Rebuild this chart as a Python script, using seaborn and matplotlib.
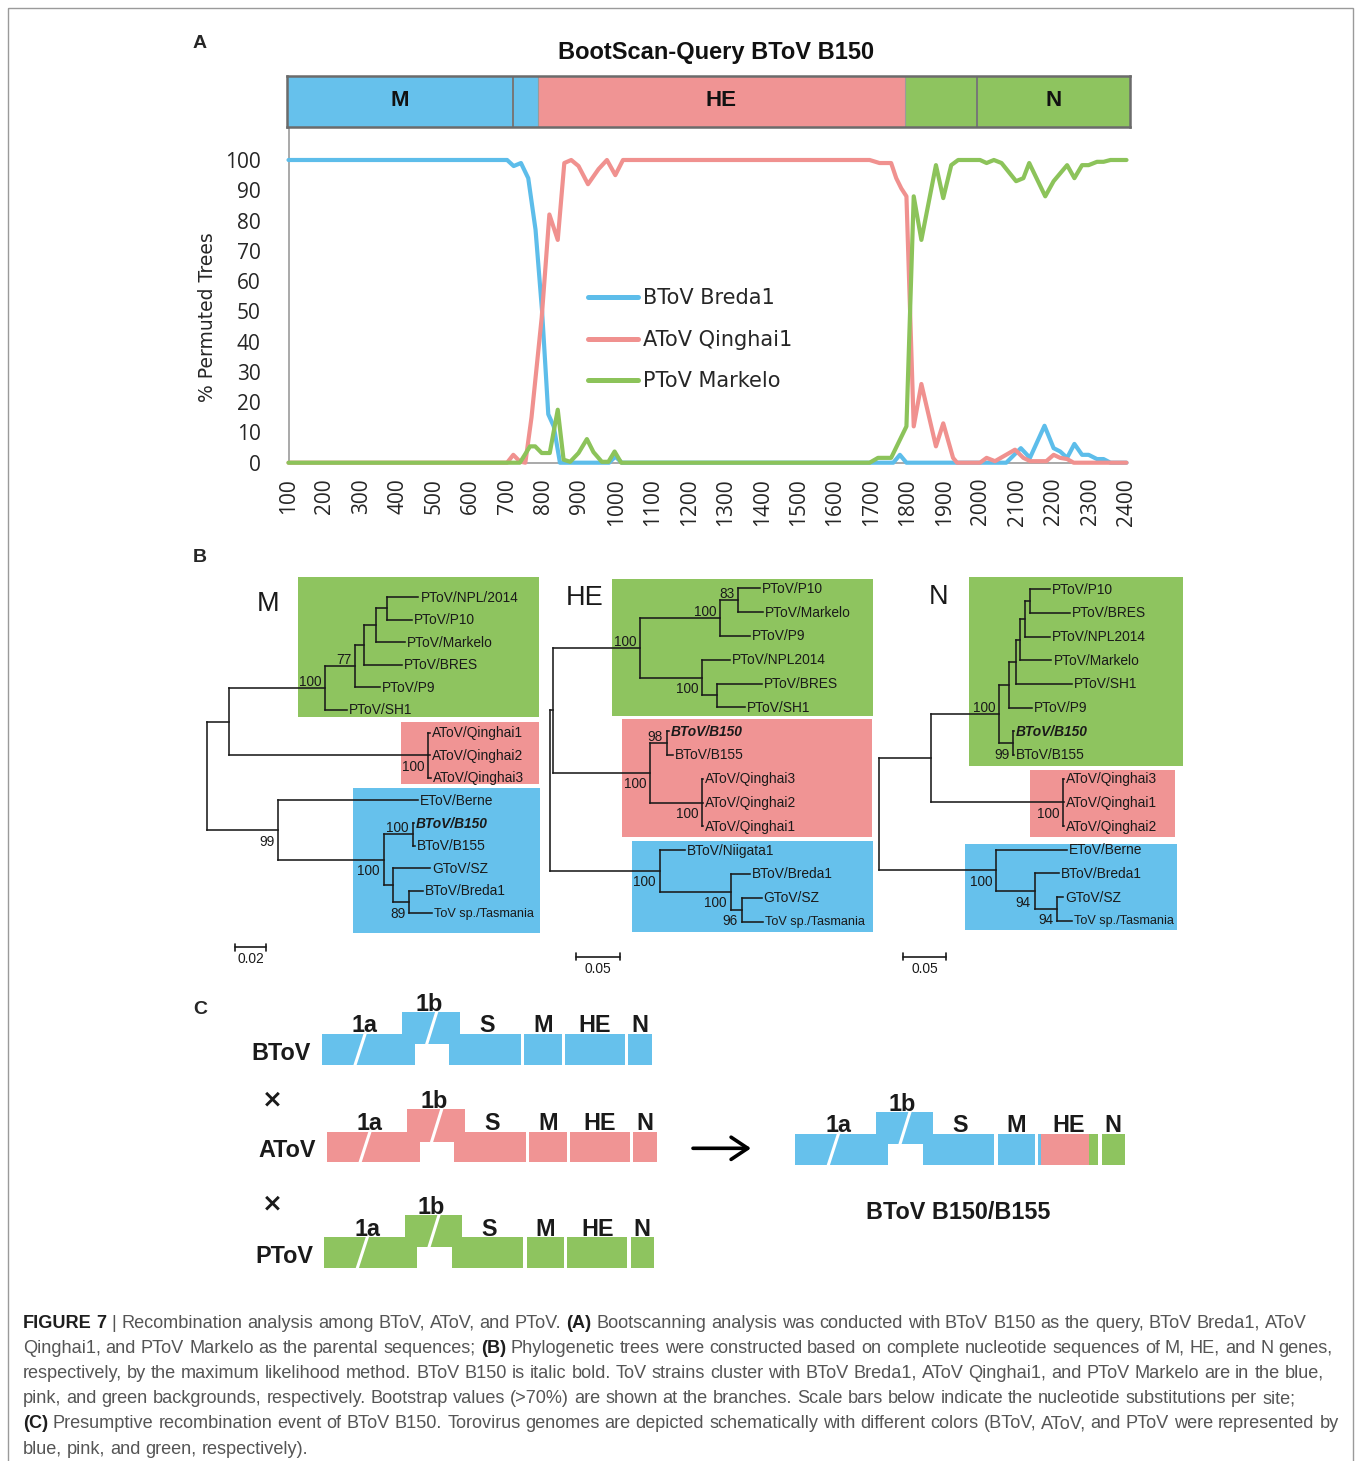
import matplotlib
matplotlib.use("Agg")
import numpy as np
import pandas as pd
import matplotlib.pyplot as plt
import seaborn as sns
from matplotlib.lines import Line2D
from matplotlib.patches import Rectangle, Polygon

W, H = 1356, 1461

# ---------------- panel A: bootscan (% permuted trees) ----------------
strains = ["BToV Breda1", "AToV Qinghai1", "PToV Markelo"]

breda1_pos = [100, 700, 718, 738, 758, 778, 796, 813, 828, 845, 980, 997, 1015,
              1760, 1778, 1796, 2070, 2110, 2135, 2175, 2200, 2218, 2237, 2257,
              2278, 2296, 2319, 2337, 2356, 2400]
breda1_pct = [100, 100, 98, 99, 94, 77, 50, 16, 12, 0, 0, 2, 0,
              0, 2.6, 0, 0, 4.8, 1.6, 12.2, 4.8, 3.7, 1.6, 6.2,
              2.6, 2.6, 1.2, 1.2, 0, 0]

qinghai1_pos = [100, 700, 717, 735, 750, 767, 795, 816, 839, 857, 876, 896, 922, 951,
                974, 997, 1018, 1695, 1722, 1754, 1768, 1782, 1796, 1816, 1837, 1877,
                1897, 1924, 1935, 1998, 2016, 2039, 2094, 2117, 2136, 2180, 2200, 2218,
                2237, 2255, 2400]
qinghai1_pct = [0, 0, 2.6, 0.4, 0, 15, 48, 82, 73.6, 99, 100, 98, 92, 97,
                100, 95, 100, 100, 99, 99, 94, 90.6, 88, 12, 26, 5.4,
                13, 1.6, 0, 0, 1.6, 0.5, 4.3, 1.6, 0.5, 0.5, 2.6, 1.6,
                1.2, 0, 0]

markelo_pos = [100, 735, 763, 777, 795, 817, 839, 855, 873, 896, 919, 937, 960, 978,
               995, 1013, 1695, 1718, 1754, 1796, 1816, 1837, 1877, 1897, 1919, 1938,
               1998, 2016, 2036, 2057, 2097, 2117, 2133, 2177, 2200, 2237, 2257, 2278,
               2296, 2319, 2337, 2356, 2400]
markelo_pct = [0, 0, 5.4, 5.4, 3.2, 3.2, 17.5, 1, 0.3, 3.2, 7.8, 3.5, 0.3, 0.3,
               3.7, 0, 0, 1.6, 1.6, 12, 88, 73.6, 98.3, 87.4, 98.3, 100,
               100, 99, 100, 99, 93, 94, 99, 88, 93, 98.3, 94, 98.3,
               98.3, 99.4, 99.4, 100, 100]

x_ticks = list(range(100, 2500, 100))
y_ticks = list(range(0, 110, 10))

# gene bar above the bootscan (alignment positions)
bar_edges = [96, 717, 784, 1793, 1990, 2410]
bar_source = ["BToV", "BToV", "AToV", "PToV", "PToV"]
bar_names = ["M", "", "HE", "", "N"]
gene_edges = [717, 1990]

# ---------------- panel B: ML trees (newick, subs/site) ----------------
tree_M = ("(((((((PToV/NPL/2014:0.0200,PToV/P10:0.0157):0.0075,PToV/Markelo:0.0190):0.0075,"
          "PToV/BRES:0.0243):0.0058,PToV/P9:0.0160)77:0.0194,PToV/SH1:0.0140)100:0.0620,"
          "(AToV/Qinghai1:0.0013,AToV/Qinghai2:0.0010,AToV/Qinghai3:0.0020)100:0.1286):0.0140,"
          "(EToV/Berne:0.0903,((BToV/B150:0.0006,BToV/B155:0.0013)100:0.0185,"
          "(GToV/SZ:0.0237,(BToV/Breda1:0.0090,ToV sp./Tasmania:0.0145)89:0.0103):0.0060)100:0.0682)99:0.0458);")
tree_HE = ("(((((PToV/P10:0.0247,PToV/Markelo:0.0284)83:0.0208,PToV/P9:0.0341)100:0.0909,"
           "(PToV/NPL2014:0.0315,(PToV/BRES:0.0511,PToV/SH1:0.0322):0.0164)100:0.0708)100:0.0985,"
           "((BToV/B150:0.0020,BToV/B155:0.0068)98:0.0190,"
           "(AToV/Qinghai3:0.0010,AToV/Qinghai2:0.0010,AToV/Qinghai1:0.0010)100:0.0594)100:0.1099):0.0038,"
           "(BToV/Niigata1:0.0284,(BToV/Breda1:0.0219,(GToV/SZ:0.0227,ToV sp./Tasmania:0.0245)96:0.0125)100:0.0803)100:0.1250);")
tree_N = ("((((((((PToV/P10:0.0233,PToV/BRES:0.0465):0.0058,PToV/NPL2014:0.0290):0.0058,"
          "PToV/Markelo:0.0368):0.0039,PToV/SH1:0.0640):0.0085,PToV/P9:0.0260):0.0116,"
          "(BToV/B150:0.0010,BToV/B155:0.0010)99:0.0163)100:0.0794,"
          "(AToV/Qinghai3:0.0010,AToV/Qinghai1:0.0010,AToV/Qinghai2:0.0010)100:0.1538):0.0600,"
          "(EToV/Berne:0.0822,(BToV/Breda1:0.0283,(GToV/SZ:0.0070,ToV sp./Tasmania:0.0167)94:0.0260)94:0.0453)100:0.1357);")
tree_names = ["M", "HE", "N"]
scale_values = [0.02, 0.05, 0.05]
query_strain = "BToV/B150"

# ---------------- panel C: genome schematics ----------------
genome_rows = ["BToV", "AToV", "PToV"]
genome_genes = ["1a", "1b", "S", "M", "HE", "N"]
recombinant_name = "BToV B150/B155"
recombinant_backbone = "BToV"

caption_lines = [
    "**FIGURE 7** | Recombination analysis among BToV, AToV, and PToV. **(A)** Bootscanning analysis was conducted with BToV B150 as the query, BToV Breda1, AToV",
    "Qinghai1, and PToV Markelo as the parental sequences; **(B)** Phylogenetic trees were constructed based on complete nucleotide sequences of M, HE, and N genes,",
    "respectively, by the maximum likelihood method. BToV B150 is italic bold. ToV strains cluster with BToV Breda1, AToV Qinghai1, and PToV Markelo are in the blue,",
    "pink, and green backgrounds, respectively. Bootstrap values (>70%) are shown at the branches. Scale bars below indicate the nucleotide substitutions per site;",
    "**(C)** Presumptive recombination event of BToV B150. Torovirus genomes are depicted schematically with different colors (BToV, AToV, and PToV were represented by",
    "blue, pink, and green, respectively).",
]

pal = {"BToV": "#66C1EC", "AToV": "#F09494", "PToV": "#8EC45F"}
line_colors = dict(zip(strains, ["#5DBDEA", "#F0918F", "#8CC35A"]))


def fig_box(x0, y0, x1, y1):
    return [x0 / W, 1 - y1 / H, (x1 - x0) / W, (y1 - y0) / H]


def parse_newick(s):
    s = s.strip().rstrip(";")
    i = 0

    def read():
        nonlocal i
        kids = []
        if s[i] == "(":
            i += 1
            kids.append(read())
            while s[i] == ",":
                i += 1
                kids.append(read())
            i += 1
        j = i
        while i < len(s) and s[i] not in ",():":
            i += 1
        name = s[j:i].strip()
        length = 0.0
        if i < len(s) and s[i] == ":":
            i += 1
            j = i
            while i < len(s) and s[i] not in ",()":
                i += 1
            length = float(s[j:i])
        return {"name": name, "len": length, "kids": kids}

    return read()


def place(node, x, counter, top, dy, k):
    node["x"] = x
    if not node["kids"]:
        node["y"] = top + counter[0] * dy
        counter[0] += 1
        return
    for kid in node["kids"]:
        place(kid, x + kid["len"] * k, counter, top, dy, k)
    node["y"] = (node["kids"][0]["y"] + node["kids"][-1]["y"]) / 2


def draw_tree(ax, node, parent=None, idx=0):
    lk = dict(color="#1a1a1a", lw=1.15, solid_capstyle="projecting", zorder=3)
    if parent is not None:
        ax.plot([parent["x"], node["x"]], [node["y"], node["y"]], **lk)
    if node["kids"]:
        ax.plot([node["x"], node["x"]], [node["kids"][0]["y"], node["kids"][-1]["y"]], **lk)
        for n, kid in enumerate(node["kids"]):
            draw_tree(ax, kid, node, n)
        if node["name"] and parent is not None:
            dy = -1.8 if idx == 0 else 15.5
            ax.text(node["x"] - 4, node["y"] + dy, node["name"], ha="right", va="baseline",
                    fontsize=9.8, color="#1a1a1a", zorder=4)
    else:
        q = node["name"] == query_strain
        fs = 9.1 if " sp./" in node["name"] else 9.9
        ax.text(node["x"] + 2, node["y"] + 0.5, node["name"], ha="left", va="center",
                fontsize=fs, color="#1a1a1a", zorder=4,
                fontweight="bold" if q else "normal", fontstyle="italic" if q else "normal")


sns.set_style("white")
plt.rcParams["font.family"] = ["Liberation Sans", "DejaVu Sans"]

fig = plt.figure(figsize=(W / 100, H / 100), dpi=100)
renderer = fig.canvas.get_renderer()
ov = fig.add_axes([0, 0, 1, 1])
ov.set_xlim(0, W)
ov.set_ylim(H, 0)
ov.axis("off")
ov.add_patch(Rectangle((8, 8), 1345, 1480, fill=False, edgecolor="#9a9a9a", lw=1))

# ---------------- panel A ----------------
ax = fig.add_axes(fig_box(288.5, 127, 1126.5, 462.7))
bootscan = pd.concat([
    pd.DataFrame({"pos": breda1_pos, "pct": breda1_pct, "strain": strains[0]}),
    pd.DataFrame({"pos": qinghai1_pos, "pct": qinghai1_pct, "strain": strains[1]}),
    pd.DataFrame({"pos": markelo_pos, "pct": markelo_pct, "strain": strains[2]}),
], ignore_index=True)
sns.lineplot(data=bootscan, x="pos", y="pct", hue="strain", hue_order=strains,
             palette=line_colors, estimator=None, linewidth=3.0, ax=ax, legend=False,
             solid_joinstyle="round", solid_capstyle="round", zorder=3, clip_on=False)
ax.set_xlim(100, 2400)
ax.set_ylim(0, 110.9)
ax.set_xticks(x_ticks)
ax.set_xticklabels([str(t) for t in x_ticks], rotation=90, fontsize=15, fontfamily="Open Sans")
ax.set_yticks(y_ticks)
ax.set_yticklabels([str(t) for t in y_ticks], fontsize=15, fontfamily="Open Sans")
ax.tick_params(axis="both", length=0)
ax.tick_params(axis="y", pad=20)
ax.tick_params(axis="x", pad=11)
for side in ["top", "right"]:
    ax.spines[side].set_visible(False)
for side in ["left", "bottom"]:
    ax.spines[side].set_color("#a3a3a3")
    ax.spines[side].set_linewidth(1.3)
ax.set_xlabel("")
ax.set_ylabel("% Permuted Trees", fontsize=13.5, fontfamily="DejaVu Sans")
ax.yaxis.set_label_coords(-0.085, 0.434)
handles = [Line2D([], [], color=line_colors[s], lw=3.6) for s in strains]
ax.legend(handles, strains, loc="center left", bbox_to_anchor=(0.357, 0.366), frameon=False,
          borderpad=0, borderaxespad=0, handlelength=2.4, handletextpad=0.28, labelspacing=1.03,
          prop={"family": "DejaVu Sans", "size": 15})

axb = fig.add_axes(fig_box(287, 75.5, 1130, 126.5))
axb.set_xlim(bar_edges[0], bar_edges[-1])
axb.set_ylim(0, 1)
for x0, x1, src, name in zip(bar_edges[:-1], bar_edges[1:], bar_source, bar_names):
    axb.axvspan(x0, x1, color=pal[src], lw=0)
    if name:
        axb.text((x0 + x1) / 2, 0.5, name, ha="center", va="center", fontsize=16,
                 fontweight="bold", color="#111111")
for e in bar_edges[1:-1]:
    g = e in gene_edges
    axb.axvline(e, color="#777777" if g else "#9a9a9a", lw=1.4 if g else 0.8)
axb.set_xticks([])
axb.set_yticks([])
for sp in axb.spines.values():
    sp.set_color("#6b6b6b")
    sp.set_linewidth(1.8)

ov.text(716, 53, "BootScan-Query BToV B150", ha="center", va="center", fontsize=17,
        fontweight="bold", color="#111111")
for lab, y in zip("ABC", [43, 558, 1010]):
    ov.text(200, y, lab, ha="center", va="center", fontsize=14, fontweight="bold")

# ---------------- panel B ----------------
tree_layout = {
    "M": dict(root=(207.3, 597.0), dy=22.6, k=1550, title=(268, 604), bar=(235, 947),
              boxes=[("PToV", 298.3, 577.3, 539.3, 716.7), ("AToV", 400.7, 721.7, 539.3, 784.3),
                     ("BToV", 353.3, 788.3, 540.0, 932.7)]),
    "HE": dict(root=(550.0, 588.3), dy=23.8, k=880, title=(584.5, 598), bar=(576, 956.7),
               boxes=[("PToV", 611.7, 579.3, 873.3, 716.0), ("AToV", 622.3, 719.0, 872.3, 836.7),
                      ("BToV", 631.7, 840.7, 873.3, 931.7)]),
    "N": dict(root=(879.3, 589.3), dy=23.67, k=860, title=(938.5, 597.5), bar=(903.3, 956.7),
              boxes=[("PToV", 969.3, 577.3, 1183.3, 766.0), ("AToV", 1030.0, 770.0, 1175.0, 836.7),
                     ("BToV", 965.0, 844.0, 1176.7, 930.0)]),
}
for name, nwk, sv in zip(tree_names, [tree_M, tree_HE, tree_N], scale_values):
    lay = tree_layout[name]
    for src, x0, y0, x1, y1 in lay["boxes"]:
        ov.add_patch(Rectangle((x0, y0), x1 - x0, y1 - y0, facecolor=pal[src], edgecolor="none", zorder=1))
    root = parse_newick(nwk)
    place(root, lay["root"][0], [0], lay["root"][1], lay["dy"], lay["k"])
    draw_tree(ov, root)
    ov.text(*lay["title"], name, ha="center", va="center", fontsize=19.5, color="#1a1a1a")
    bx, by = lay["bar"]
    bl = sv * lay["k"]
    ov.plot([bx, bx + bl], [by, by], color="#1a1a1a", lw=1.2)
    ov.plot([bx, bx], [by - 3.5, by + 3.5], color="#1a1a1a", lw=1.2)
    ov.plot([bx + bl, bx + bl], [by - 3.5, by + 3.5], color="#1a1a1a", lw=1.2)
    ov.text(bx + bl / 2, by + 5, f"{sv:.2f}", ha="center", va="top", fontsize=9.9, color="#1a1a1a")

# ---------------- panel C ----------------
band_h, block_h = 30.7, 22.6
core_outline = [(0, 0), (80.6, 0), (80.6, -block_h), (138.3, -block_h), (138.3, 0), (199, 0),
                (199, band_h), (127.6, band_h), (127.6, 10), (93.3, 10), (93.3, band_h), (0, band_h)]
gene_spans = {"M": (202.6, 240.0), "HE": (243.3, 303.3), "N": (306.6, 330.0)}
label_x = {"1a": 43, "1b": 107, "S": 165, "M": 221.3, "HE": 273.3, "N": 318.3}
slashes = [((33.0, band_h + 1), (43.6, -1)), ((104.6, 11.0), (115.4, -block_h - 1))]


def draw_genome(x0, top, core_src, m_src, he_parts, n_src):
    ov.add_patch(Polygon([(x0 + a, top + b) for a, b in core_outline], closed=True,
                         facecolor=pal[core_src], edgecolor="none", zorder=2))
    m0, m1 = gene_spans["M"]
    ov.add_patch(Rectangle((x0 + m0, top), m1 - m0, band_h, facecolor=pal[m_src], edgecolor="none", zorder=2))
    h0, h1 = gene_spans["HE"]
    cur = h0
    for src, frac in he_parts:
        w = (h1 - h0) * frac
        ov.add_patch(Rectangle((x0 + cur, top), w, band_h, facecolor=pal[src], edgecolor="none", zorder=2))
        cur += w
    n0, n1 = gene_spans["N"]
    ov.add_patch(Rectangle((x0 + n0, top), n1 - n0, band_h, facecolor=pal[n_src], edgecolor="none", zorder=2))
    for (ax0, ay0), (ax1, ay1) in slashes:
        ov.plot([x0 + ax0, x0 + ax1], [top + ay0, top + ay1], color="white", lw=2.2, zorder=3)
    for g in genome_genes:
        base = top - block_h - 0.8 if g == "1b" else top - 1.8
        ov.text(x0 + label_x[g], base, g, ha="center", va="baseline", fontsize=16.8,
                fontweight="bold", color="#1a1a1a")


row_pos = [(321.7, 1034.3), (326.7, 1131.7), (324.0, 1237.3)]
for src, (x0, top) in zip(genome_rows, row_pos):
    draw_genome(x0, top, src, src, [(src, 1.0)], src)
    ov.text(x0 - 11, top + 25.7, src, ha="right", va="baseline", fontsize=16.8,
            fontweight="bold", color="#1a1a1a")
for y in [1099.5, 1203]:
    ov.text(272.8, y, "\u00d7", ha="center", va="center", fontsize=18, fontweight="bold",
            fontfamily="DejaVu Sans", color="#1a1a1a")

# recombinant: HE composition taken from the bootscan bar
he_lo, he_hi = gene_edges
he_parts = []
for x0, x1, src in zip(bar_edges[:-1], bar_edges[1:], bar_source):
    a, b = max(x0, he_lo), min(x1, he_hi)
    if b > a:
        he_parts.append((src, (b - a) / (he_hi - he_lo)))
draw_genome(795.0, 1134.3, recombinant_backbone, bar_source[0], he_parts, bar_source[-1])
ov.text(958.3, 1219.3, recombinant_name, ha="center", va="baseline", fontsize=16.8,
        fontweight="bold", color="#1a1a1a")
ov.annotate("", xy=(751, 1148.3), xytext=(693, 1148.3),
            arrowprops=dict(arrowstyle="->,head_length=0.6,head_width=0.4", lw=2.6,
                            color="black", shrinkA=0, shrinkB=0, mutation_scale=20))

# ---------------- caption (one text per word, positions from run prefixes) ----------------
def runs_of(line):
    return [(p.strip(), k % 2 == 1) for k, p in enumerate(line.split("**")) if p.strip()]


def text_w(s, bold, size):
    t = ov.text(0, 0, s, fontsize=size, fontweight="bold" if bold else "normal")
    w = t.get_window_extent(renderer).width
    t.remove()
    return w


def prefix_w(s, bold, size):
    # width of s including any trailing space, measured against a marker glyph
    if not s:
        return 0.0
    return text_w(s + "x", bold, size) - text_w("x", bold, size)


base = 12.0
space_w = text_w("a a", False, base) - text_w("aa", False, base)
first = runs_of(caption_lines[0])
width1 = sum(text_w(s, b, base) for s, b in first) + space_w * (len(first) - 1)
size = base * 1290.0 / width1
space_w *= size / base
for n, line in enumerate(caption_lines):
    x = 22.7
    y = 1327.5 + n * 25.2
    for s, b in runs_of(line):
        weight = "bold" if b else "normal"
        color = "#1e1e1e" if b else "#555555"
        words = s.split(" ")
        for m, w in enumerate(words):
            offset = prefix_w(" ".join(words[:m]) + (" " if m else ""), b, size)
            ov.text(x + offset, y, w, fontsize=size, ha="left", va="baseline",
                    fontweight=weight, color=color)
        x += text_w(s, b, size) + space_w

fig.savefig("out.png", dpi=100)
